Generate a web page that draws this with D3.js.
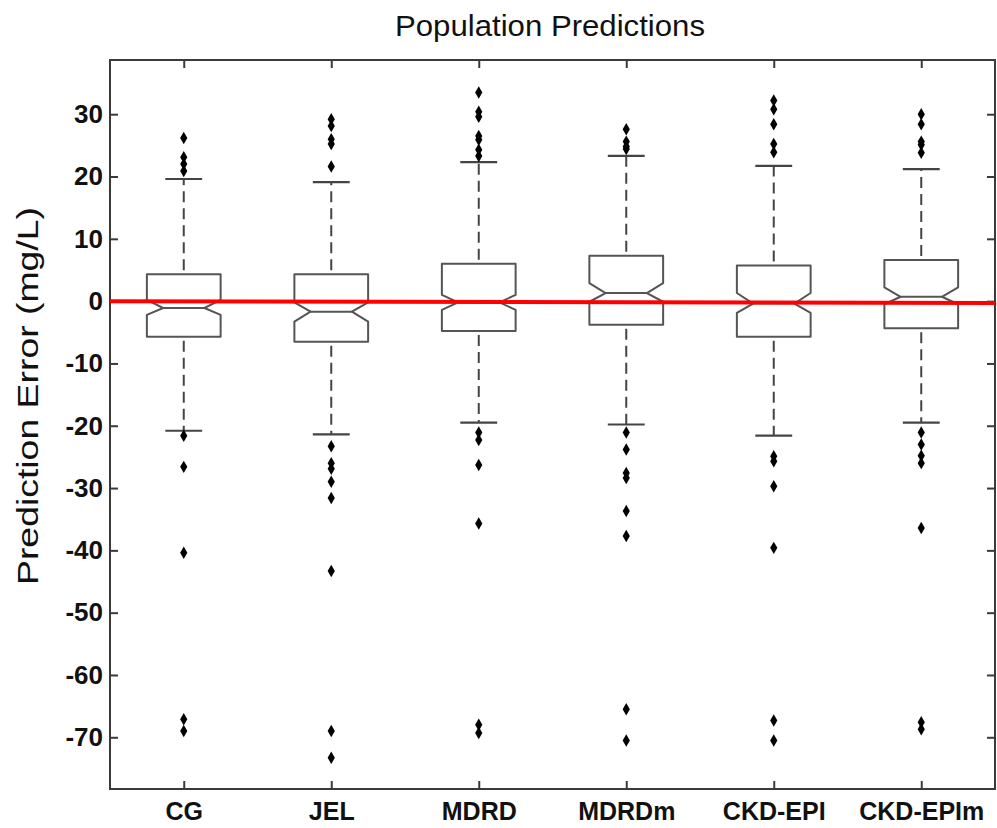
<!DOCTYPE html>
<html>
<head>
<meta charset="utf-8">
<script src="https://cdn.jsdelivr.net/npm/d3@7/dist/d3.min.js"></script>
<style>
  html, body { margin: 0; padding: 0; background: #fff; }
  svg { display: block; }
  text { font-family: "Liberation Sans", Arial, sans-serif; }
</style>
</head>
<body>
<svg id="chart" width="997" height="828"></svg>
<script>
// ---------- data ----------
const categories = ["CG", "JEL", "MDRD", "MDRDm", "CKD-EPI", "CKD-EPIm"];
const q3Values       = [4.3, 4.3, 6.0, 7.3, 5.7, 6.6];
const medianValues   = [-1.1, -1.7, -0.2, 1.3, -0.4, 0.7];
const q1Values       = [-5.7, -6.5, -4.8, -3.8, -5.7, -4.35];
const notchHiValues  = [0.2, -0.2, 1.0, 2.9, 1.3, 2.2];
const notchLoValues  = [-2.2, -3.3, -1.4, -0.1, -1.9, -0.5];
const whiskerHi      = [19.6, 19.1, 22.3, 23.3, 21.7, 21.2];
const whiskerLo      = [-20.8, -21.4, -19.5, -19.8, -21.6, -19.5];
const outliersCG       = [26.2, 23.1, 22.0, 20.9, -21.6, -26.6, -40.4, -67.1, -69.0];
const outliersJEL      = [29.2, 28.1, 26.0, 25.2, 21.6, -23.3, -26.0, -26.9, -29.0, -31.6, -43.3, -69.0, -73.3];
const outliersMDRD     = [33.5, 30.4, 29.6, 26.5, 25.9, 24.3, 23.3, -21.1, -22.3, -26.3, -35.7, -68.0, -69.3];
const outliersMDRDm    = [27.6, 25.6, 24.8, 24.4, -21.1, -23.8, -27.6, -28.4, -33.7, -37.7, -65.5, -70.5];
const outliersCKDEPI   = [32.2, 30.8, 28.4, 25.2, 23.9, -24.9, -25.7, -29.7, -39.6, -67.3, -70.5];
const outliersCKDEPIm  = [30.0, 28.4, 25.6, 25.1, 23.8, -21.1, -23.0, -24.8, -26.0, -36.4, -67.6, -68.7];
const outliers = [outliersCG, outliersJEL, outliersMDRD, outliersMDRDm, outliersCKDEPI, outliersCKDEPIm];
const yTickValues = [-70, -60, -50, -40, -30, -20, -10, 0, 10, 20, 30];
const yTickLabels = ["-70", "-60", "-50", "-40", "-30", "-20", "-10", "0", "10", "20", "30"];
const yDomain = [-78.3, 38.7];
const referenceLine = [0, -0.3];   // value at left edge, value at right edge
const titleText = "Population Predictions";
const yLabelText = "Prediction Error (mg/L)";

// ---------- layout ----------
const W = 997, H = 828;
const plot = { left: 110, right: 995, top: 60, bottom: 789 };
const svg = d3.select("#chart");

const x = d3.scalePoint().domain(categories).range([plot.left, plot.right]).padding(0.5);
const y = d3.scaleLinear().domain(yDomain).range([plot.bottom, plot.top]);
const step = x.step();
const hw = step * 0.25;       // box half width
const hwNotch = hw * 0.56;    // half width at median (notch)
const capHw = hw * 0.5;

const lineCol = "#555";
const axisCol = "#3a3a3a";

// ---------- axes (ticks inward, box on) ----------
const tickLen = 8;
const gl = svg.append("g").attr("transform", `translate(${plot.left},0)`)
  .call(d3.axisLeft(y).tickValues(yTickValues).tickSize(-tickLen).tickPadding(7)
        .tickFormat((d, i) => yTickLabels[i]));
const gr = svg.append("g").attr("transform", `translate(${plot.right},0)`)
  .call(d3.axisRight(y).tickValues(yTickValues).tickSize(-tickLen).tickFormat(""));
const gb = svg.append("g").attr("transform", `translate(0,${plot.bottom})`)
  .call(d3.axisBottom(x).tickSize(-tickLen).tickPadding(13));
const gt = svg.append("g").attr("transform", `translate(0,${plot.top})`)
  .call(d3.axisTop(x).tickSize(-tickLen).tickFormat(""));

[gl, gr, gb, gt].forEach(g => {
  g.select(".domain").remove();
  g.selectAll(".tick line").attr("stroke", axisCol).attr("stroke-width", 2);
});
gl.selectAll(".tick text")
  .attr("font-family", "Liberation Sans, Arial, sans-serif")
  .attr("font-size", 26).attr("font-weight", "bold").attr("fill", "#111");
gb.selectAll(".tick text")
  .attr("font-family", "Liberation Sans, Arial, sans-serif")
  .attr("font-size", 25).attr("font-weight", "bold").attr("fill", "#111");

svg.append("rect")
  .attr("x", plot.left).attr("y", plot.top)
  .attr("width", plot.right - plot.left).attr("height", plot.bottom - plot.top)
  .attr("fill", "none").attr("stroke", axisCol).attr("stroke-width", 2);

// ---------- boxes ----------
const data = categories.map((c, i) => ({
  c, q3: q3Values[i], med: medianValues[i], q1: q1Values[i],
  nHi: notchHiValues[i], nLo: notchLoValues[i],
  wHi: whiskerHi[i], wLo: whiskerLo[i], out: outliers[i]
}));

const g = svg.append("g");
data.forEach(d => {
  const cx = x(d.c);
  // whiskers (dashed)
  g.append("line").attr("x1", cx).attr("x2", cx)
    .attr("y1", y(d.q3) - 4).attr("y2", y(d.wHi))
    .attr("stroke", "#444").attr("stroke-width", 2).attr("stroke-dasharray", "11,6");
  g.append("line").attr("x1", cx).attr("x2", cx)
    .attr("y1", y(d.q1) + 4).attr("y2", y(d.wLo))
    .attr("stroke", "#444").attr("stroke-width", 2).attr("stroke-dasharray", "11,6");
  // caps
  [d.wHi, d.wLo].forEach(v => {
    g.append("line").attr("x1", cx - capHw).attr("x2", cx + capHw)
      .attr("y1", y(v)).attr("y2", y(v))
      .attr("stroke", "#444").attr("stroke-width", 2.2);
  });
  // notched box
  const p = d3.path();
  p.moveTo(cx - hw, y(d.q3));
  p.lineTo(cx + hw, y(d.q3));
  p.lineTo(cx + hw, y(d.nHi));
  p.lineTo(cx + hwNotch, y(d.med));
  p.lineTo(cx + hw, y(d.nLo));
  p.lineTo(cx + hw, y(d.q1));
  p.lineTo(cx - hw, y(d.q1));
  p.lineTo(cx - hw, y(d.nLo));
  p.lineTo(cx - hwNotch, y(d.med));
  p.lineTo(cx - hw, y(d.nHi));
  p.closePath();
  g.append("path").attr("d", p.toString())
    .attr("fill", "none").attr("stroke", lineCol).attr("stroke-width", 2)
    .attr("stroke-linejoin", "round");
  // median
  g.append("line").attr("x1", cx - hwNotch).attr("x2", cx + hwNotch)
    .attr("y1", y(d.med)).attr("y2", y(d.med))
    .attr("stroke", lineCol).attr("stroke-width", 2);
  // outliers
  g.selectAll(null).data(d.out).enter().append("path")
    .attr("d", d3.symbol().type(d3.symbolDiamond).size(45))
    .attr("transform", v => `translate(${cx},${y(v)})`)
    .attr("fill", "#000");
});

// ---------- red reference line ----------
svg.append("line")
  .attr("x1", plot.left).attr("x2", plot.right)
  .attr("y1", y(referenceLine[0])).attr("y2", y(referenceLine[1]))
  .attr("stroke", "#ff0000").attr("stroke-width", 4);

// ---------- title & labels ----------
svg.append("text")
  .attr("x", 550).attr("y", 36)
  .attr("text-anchor", "middle")
  .attr("font-size", 29).attr("fill", "#111")
  .attr("textLength", 310).attr("lengthAdjust", "spacingAndGlyphs")
  .text(titleText);

svg.append("text")
  .attr("transform", `translate(38,396) rotate(-90)`)
  .attr("text-anchor", "middle")
  .attr("font-size", 29).attr("fill", "#111")
  .attr("textLength", 378).attr("lengthAdjust", "spacingAndGlyphs")
  .text(yLabelText);
</script>
</body>
</html>
